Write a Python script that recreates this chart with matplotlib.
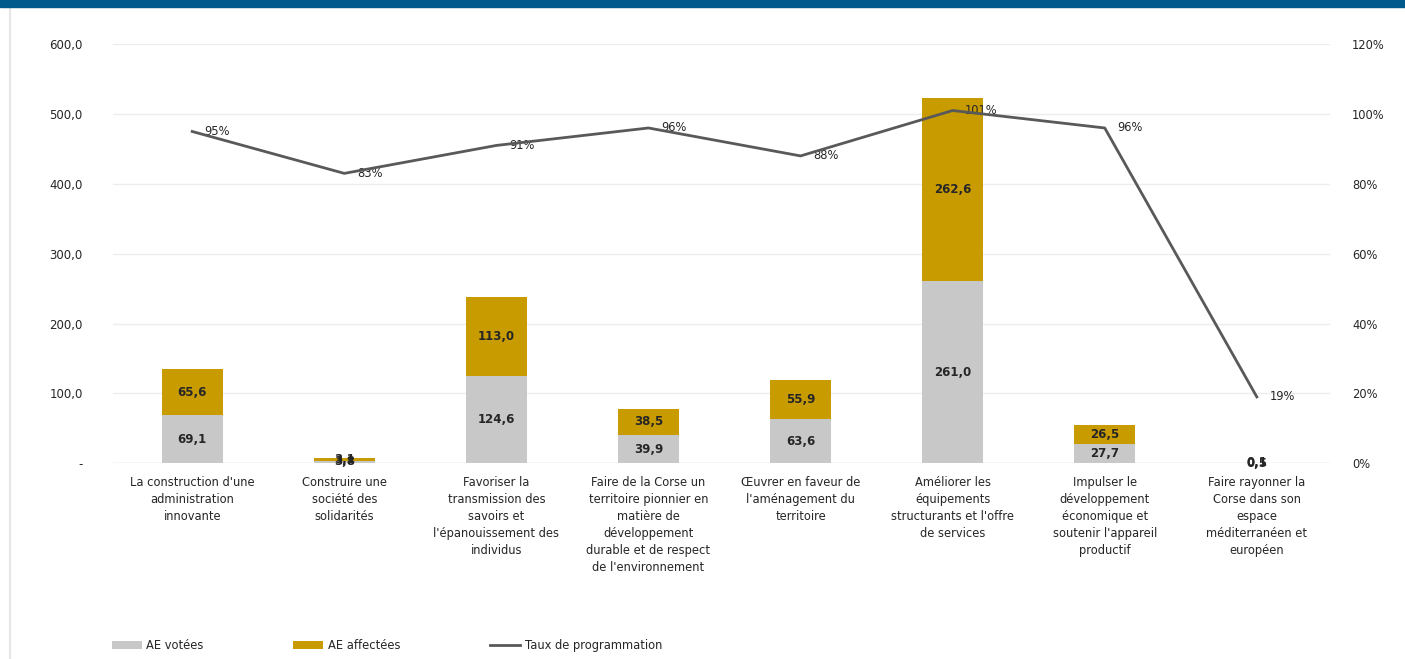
import matplotlib.pyplot as plt
import numpy as np

categories = [
    "La construction d'une\nadministration\ninnovante",
    "Construire une\nsociété des\nsolidarités",
    "Favoriser la\ntransmission des\nsavoirs et\nl'épanouissement des\nindividus",
    "Faire de la Corse un\nterritoire pionnier en\nmatière de\ndéveloppement\ndurable et de respect\nde l'environnement",
    "Œuvrer en faveur de\nl'aménagement du\nterritoire",
    "Améliorer les\néquipements\nstructurants et l'offre\nde services",
    "Impulser le\ndéveloppement\néconomique et\nsoutenir l'appareil\nproductif",
    "Faire rayonner la\nCorse dans son\nespace\nméditerranéen et\neuropéen",
]
ae_votees = [69.1, 3.8, 124.6, 39.9, 63.6, 261.0, 27.7, 0.5]
ae_affectees = [65.6, 3.1, 113.0, 38.5, 55.9, 262.6, 26.5, 0.1]
taux = [95, 83, 91, 96, 88, 101, 96, 19]

grey = '#C8C8C8'
gold = '#C89B00'
line_col = '#595959'
txt = '#262626'

plt.rcParams['font.family'] = ['DejaVu Sans']

def fr(v):
    return f"{v:.1f}".replace('.', ',')

fig = plt.figure(figsize=(14.05, 6.59), dpi=100)
ax = fig.add_axes([0.0805, 0.297, 0.866, 0.636])
x = np.arange(len(categories))
w = 0.4

ax.bar(x, ae_votees, w, color=grey, label='AE votées', zorder=2)
ax.bar(x, ae_affectees, w, bottom=ae_votees, color=gold, label='AE affectées', zorder=2)

for i in range(len(x)):
    ax.text(x[i], ae_votees[i] / 2, fr(ae_votees[i]), ha='center', va='center',
            fontsize=8.5, color=txt, fontweight='bold', zorder=5)
    ax.text(x[i], ae_votees[i] + ae_affectees[i] / 2, fr(ae_affectees[i]), ha='center',
            va='center', fontsize=8.5, color=txt, fontweight='bold', zorder=5)

ax.set_xlim(-0.52, 7.48)
ax.set_ylim(0, 600)
ax.set_yticks(np.arange(0, 601, 100))
ax.set_yticklabels(['-'] + [fr(v) for v in np.arange(100, 601, 100)])
ax.grid(axis='y', color='#EDEDED', linewidth=1, zorder=0)
ax.set_axisbelow(True)
ax.set_xticks(x)
ax.set_xticklabels(categories, fontsize=8.3, color=txt, linespacing=1.4)
ax.tick_params(axis='x', length=0, pad=9)
ax.tick_params(axis='y', length=0, labelsize=8.5, labelcolor=txt, pad=22)
for s in ax.spines.values():
    s.set_visible(False)
ax.axhline(0, color='#E3E3E3', linewidth=1, zorder=1)

ax2 = ax.twinx()
ax2.plot(x, taux, color=line_col, linewidth=2, label='Taux de programmation', zorder=4)
for i in range(len(x)):
    ax2.annotate(f"{taux[i]}%", (x[i], taux[i]), xytext=(9, 0), textcoords='offset points',
                 ha='left', va='center', fontsize=8.3, color=txt)
ax2.set_ylim(0, 120)
ax2.set_yticks(np.arange(0, 121, 20))
ax2.set_yticklabels([f"{v}%" for v in range(0, 121, 20)])
ax2.tick_params(axis='y', length=0, labelsize=8.3, labelcolor=txt, pad=16)
for s in ax2.spines.values():
    s.set_visible(False)

h1, l1 = ax.get_legend_handles_labels()
h2, l2 = ax2.get_legend_handles_labels()
fig.legend(h1 + h2, l1 + l2, loc='lower left', bbox_to_anchor=(0.072, -0.005), ncol=3,
           frameon=False, fontsize=8.3, handlelength=2.6, handleheight=0.6,
           columnspacing=7.8, handletextpad=0.4, labelcolor=txt)

# top banner and left border
fig.patches.append(plt.Rectangle((0, 0.99), 1, 0.01, transform=fig.transFigure,
                                 color='#005A8C', zorder=10))
fig.lines.append(plt.Line2D([0.007, 0.007], [0, 0.99], transform=fig.transFigure,
                            color='#E6E6E6', linewidth=1.5))

fig.savefig('out.png', dpi=100)
